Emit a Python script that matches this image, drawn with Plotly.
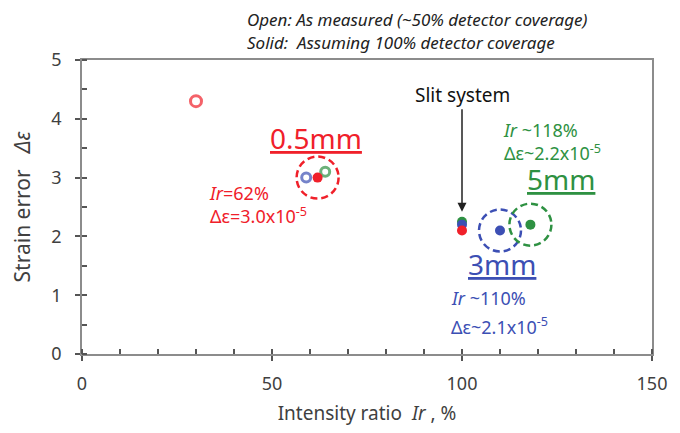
import plotly.graph_objects as go

# Open markers: as measured (~50% detector coverage)
open_x = [30, 59, 64]
open_y = [4.3, 3.0, 3.1]
open_colors = ["#f0202a", "#3c4fb4", "#2e9142"]

# Solid markers: assuming 100% detector coverage
green_x = [100, 118]
green_y = [2.25, 2.2]
blue_x = [100, 110]
blue_y = [2.2, 2.1]
red_x = [100, 62]
red_y = [2.1, 3.0]

RED = "#f0202a"
BLUE = "#3c4fb4"
GREEN = "#2e9142"
FONT = "Noto Sans"

fig = go.Figure()
fig.add_trace(go.Scatter(
    x=open_x, y=open_y, mode="markers",
    marker=dict(symbol="circle", size=[11, 9, 9], color="rgba(255,255,255,0)",
                line=dict(width=3, color=open_colors)),
    showlegend=False, hoverinfo="skip"))
fig.add_trace(go.Scatter(x=green_x, y=green_y, mode="markers",
                         marker=dict(size=10, color=GREEN), showlegend=False))
fig.add_trace(go.Scatter(x=blue_x, y=blue_y, mode="markers",
                         marker=dict(size=10, color=BLUE), showlegend=False))
fig.add_trace(go.Scatter(x=red_x, y=red_y, mode="markers",
                         marker=dict(size=10, color=RED), showlegend=False))

# Dashed highlight circles (pixel-sized, anchored at data points)
for cx, cy, col in [(red_x[1], red_y[1], RED), (blue_x[1], blue_y[1], BLUE), (green_x[1], green_y[1], GREEN)]:
    fig.add_shape(type="circle", xref="x", yref="y",
                  xsizemode="pixel", ysizemode="pixel",
                  xanchor=cx, yanchor=cy, x0=-21, x1=21, y0=-21, y1=21,
                  line=dict(color=col, width=2.5, dash="7px,4px"))

ann_font = dict(family=FONT, size=18)
annotations = [
    dict(x=61.7, y=3.68, text="0.5mm", showarrow=False,
         font=dict(family=FONT, size=28, color=RED, lineposition="under")),
    dict(x=32.9, y=2.55, text="<i>Ir</i>=62%<br>Δε=3.0x10<sup>-5</sup>", showarrow=False,
         xanchor="left", align="left", font=dict(ann_font, color=RED)),
    dict(x=100, y=2.42, ax=0, ay=-117, text="Slit system", showarrow=True,
         arrowhead=2, arrowsize=1.2, arrowwidth=1.5, arrowcolor="#222222",
         font=dict(family=FONT, size=19, color="#111111")),
    dict(x=110.2, y=3.61, text="<i>Ir</i> ~118%<br>Δε~2.2x10<sup>-5</sup>", showarrow=False,
         xanchor="left", align="left", font=dict(ann_font, color=GREEN)),
    dict(x=126, y=2.97, text="5mm", showarrow=False,
         font=dict(family=FONT, size=28, color=GREEN, lineposition="under")),
    dict(x=110.5, y=1.53, text="3mm", showarrow=False,
         font=dict(family=FONT, size=28, color=BLUE, lineposition="under")),
    dict(x=96.5, y=0.95, text="<i>Ir</i> ~110%", showarrow=False,
         xanchor="left", align="left", font=dict(ann_font, color=BLUE)),
    dict(x=96.5, y=0.47, text="Δε~2.1x10<sup>-5</sup>", showarrow=False,
         xanchor="left", align="left", font=dict(ann_font, color=BLUE)),
    dict(x=0.286, y=1.139, xref="paper", yref="paper", xanchor="left", yanchor="middle",
         text="<i>Open: As measured (~50% detector coverage)</i>", showarrow=False,
         font=dict(family=FONT, size=17, color="#222222")),
    dict(x=0.286, y=1.061, xref="paper", yref="paper", xanchor="left", yanchor="middle",
         text="<i>Solid:  Assuming 100% detector coverage</i>", showarrow=False,
         font=dict(family=FONT, size=17, color="#222222")),
]
for a in annotations:
    fig.add_annotation(**a)

axis_common = dict(showgrid=False, zeroline=False, showline=True, linecolor="#8c8c8c",
                   linewidth=1.5, mirror=True, ticks="outside", ticklen=5,
                   tickcolor="#555555", tickwidth=1.5, automargin=False,
                   tickfont=dict(family=FONT, size=18, color="#404040"))
fig.update_xaxes(range=[0, 150], tickvals=[0, 50, 100, 150], ticklabelstandoff=8,
                 minor=dict(dtick=10, ticks="inside", ticklen=5, tickcolor="#555555", tickwidth=1.5),
                 title=dict(text="Intensity ratio  <i>Ir</i> , %", font=dict(family=FONT, size=19, color="#404040"),
                            standoff=12),
                 **axis_common)
fig.update_yaxes(range=[0, 5], dtick=1, ticklabelstandoff=10,
                 minor=dict(dtick=0.5, ticks="inside", ticklen=5, tickcolor="#555555", tickwidth=1.5),
                 title=dict(text="Strain error   <i>Δε</i>", font=dict(family=FONT, size=21, color="#404040"),
                            standoff=18),
                 **axis_common)
fig.update_layout(width=680, height=433, margin=dict(l=74, r=36, t=52, b=87),
                  plot_bgcolor="white", paper_bgcolor="white")
fig.write_html("out.html")
